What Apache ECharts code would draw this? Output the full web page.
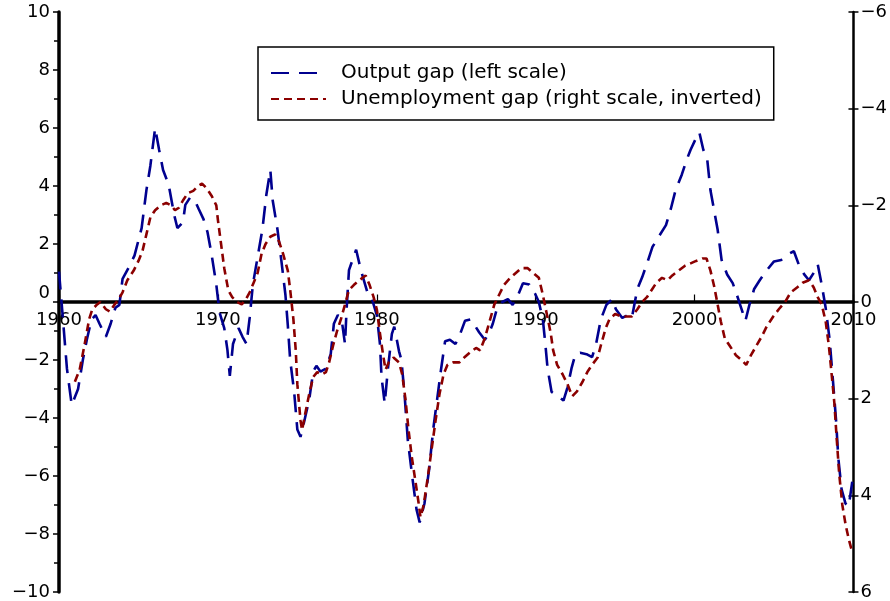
<!DOCTYPE html>
<html>
<head>
<meta charset="utf-8">
<script src="https://cdn.jsdelivr.net/npm/echarts@6/dist/echarts.min.js"></script>
<style>
html, body { margin: 0; padding: 0; background: #fff; }
#chart { width: 890px; height: 601px; }
</style>
</head>
<body>
<div id="chart"></div>
<script>
// output gap, left scale (quarterly-ish readings)
const outputYears = [
  1960.0,1960.25,1960.5,1960.8,1961.2,1961.5,1961.75,1962.05,1962.3,1962.55,
  1962.95,1963.25,1963.55,1963.8,1964.0,1964.4,1964.75,1965.2,1965.5,1965.75,
  1966.05,1966.3,1966.55,1966.9,1967.25,1967.45,1967.8,1967.95,1968.25,1968.55,
  1968.8,1969.1,1969.35,1969.6,1969.9,1970.1,1970.4,1970.6,1970.75,1970.95,
  1971.3,1971.55,1971.8,1972.0,1972.2,1972.5,1972.8,1973.05,1973.3,1973.45,
  1973.75,1974.0,1974.25,1974.4,1974.55,1974.8,1975.0,1975.2,1975.4,1975.75,
  1976.0,1976.2,1976.45,1976.8,1977.1,1977.3,1977.55,1977.8,1978.0,1978.1,
  1978.25,1978.7,1979.0,1979.4,1979.7,1980.0,1980.2,1980.3,1980.5,1980.7,
  1980.95,1981.1,1981.4,1981.55,1981.75,1981.95,1982.25,1982.5,1982.7,1983.0,
  1983.3,1983.55,1983.8,1984.05,1984.3,1984.6,1984.95,1985.25,1985.55,1985.9,
  1986.1,1986.45,1986.8,1987.05,1987.3,1987.55,1987.9,1988.25,1988.55,1988.9,
  1989.2,1989.6,1989.95,1990.2,1990.45,1990.6,1990.75,1991.0,1991.4,1991.75,
  1992.0,1992.25,1992.5,1992.8,1993.2,1993.55,1993.8,1994.1,1994.45,1994.8,
  1995.05,1995.45,1995.8,1996.05,1996.4,1996.7,1997.05,1997.35,1997.8,1998.2,
  1998.5,1998.8,1999.2,1999.5,1999.75,2000.05,2000.3,2000.55,2000.8,2001.0,
  2001.25,2001.45,2001.7,2002.05,2002.4,2002.6,2002.9,2003.2,2003.45,2003.75,
  2004.1,2004.55,2005.0,2005.45,2005.9,2006.25,2006.55,2006.9,2007.2,2007.55,
  2007.75,2008.0,2008.25,2008.5,2008.7,2008.9,2009.05,2009.25,2009.5,2009.7,
  2009.95
]
const outputGap = [
  1.05,-0.6,-2.3,-3.55,-3.0,-2.0,-1.3,-0.6,-0.45,-0.75,
  -1.2,-0.75,-0.2,-0.1,0.8,1.2,1.6,2.55,3.85,4.7,
  6.0,5.25,4.55,4.05,3.0,2.55,2.75,3.35,3.6,3.5,
  3.2,2.85,2.4,1.65,0.6,-0.35,-0.9,-1.65,-2.55,-1.45,
  -0.9,-1.2,-1.45,-0.55,0.6,1.55,2.5,3.7,4.55,3.5,
  2.5,1.4,0.25,-0.8,-2.0,-3.1,-4.4,-4.65,-4.2,-3.35,
  -2.4,-2.2,-2.4,-2.3,-1.8,-0.75,-0.45,-0.65,-1.45,-0.25,
  1.1,1.8,1.1,0.35,0.1,-0.45,-1.45,-2.6,-3.5,-2.3,
  -1.1,-0.85,-1.7,-2.0,-3.2,-4.75,-6.1,-7.15,-7.6,-6.95,
  -5.75,-4.4,-3.35,-2.3,-1.35,-1.3,-1.45,-1.1,-0.65,-0.6,
  -0.75,-1.05,-1.3,-1.1,-0.75,-0.25,0.0,0.1,-0.1,0.25,
  0.65,0.6,0.3,0.0,-0.6,-1.4,-2.3,-3.1,-3.25,-3.4,
  -2.95,-2.3,-1.8,-1.75,-1.8,-1.9,-1.45,-0.6,-0.1,0.1,
  -0.25,-0.55,-0.45,-0.55,0.45,0.85,1.4,1.9,2.3,2.65,
  3.2,3.85,4.4,4.9,5.25,5.6,5.85,5.25,4.9,3.85,
  3.1,2.5,1.45,0.95,0.65,0.35,-0.15,-0.65,-0.1,0.45,
  0.75,1.1,1.4,1.45,1.65,1.75,1.3,0.95,0.75,1.05,
  1.3,0.6,-0.2,-1.3,-2.65,-4.05,-5.4,-6.45,-6.95,-7.05,
  -6.1
]

// unemployment gap, right scale (inverted)
const unempYears = [
  1961.0,1961.3,1961.6,1961.9,1962.1,1962.4,1962.6,1962.95,1963.2,1963.5,
  1963.75,1964.0,1964.3,1964.7,1965.0,1965.25,1965.5,1965.75,1966.05,1966.4,
  1966.75,1967.05,1967.3,1967.55,1967.8,1968.1,1968.45,1968.75,1969.0,1969.3,
  1969.6,1969.9,1970.0,1970.2,1970.4,1970.65,1970.9,1971.2,1971.5,1971.75,
  1972.0,1972.25,1972.5,1972.75,1973.0,1973.3,1973.6,1973.85,1974.1,1974.4,
  1974.55,1974.75,1974.9,1975.0,1975.2,1975.3,1975.5,1975.75,1976.0,1976.25,
  1976.55,1976.8,1977.0,1977.25,1977.5,1977.75,1978.0,1978.25,1978.55,1978.9,
  1979.3,1979.55,1979.8,1980.0,1980.2,1980.4,1980.55,1980.75,1981.05,1981.4,
  1981.6,1981.8,1982.0,1982.2,1982.45,1982.65,1982.75,1982.95,1983.2,1983.45,
  1983.7,1983.95,1984.2,1984.45,1984.8,1985.2,1985.5,1985.85,1986.25,1986.5,
  1986.8,1987.1,1987.4,1987.7,1988.0,1988.4,1988.75,1989.1,1989.5,1989.85,
  1990.2,1990.45,1990.7,1990.95,1991.1,1991.35,1991.7,1992.0,1992.3,1992.6,
  1992.95,1993.25,1993.55,1993.9,1994.1,1994.4,1994.65,1995.0,1995.4,1995.75,
  1996.05,1996.4,1996.7,1997.0,1997.3,1997.6,1997.95,1998.3,1998.6,1999.0,
  1999.4,1999.75,2000.1,2000.5,2000.75,2001.0,2001.25,2001.45,2001.65,2001.9,
  2002.2,2002.6,2002.95,2003.25,2003.55,2003.9,2004.25,2004.55,2004.95,2005.3,
  2005.7,2006.05,2006.45,2006.8,2007.2,2007.5,2007.75,2008.0,2008.25,2008.45,
  2008.6,2008.8,2008.95,2009.1,2009.3,2009.5,2009.7,2009.9
]
const unempGap = [
  1.65,1.4,0.9,0.35,0.15,0.05,0.0,0.15,0.2,0.05,
  -0.05,-0.2,-0.45,-0.65,-0.85,-1.05,-1.4,-1.75,-1.9,-2.0,
  -2.05,-2.0,-1.9,-1.95,-2.1,-2.25,-2.3,-2.4,-2.45,-2.35,
  -2.2,-2.0,-1.7,-1.2,-0.7,-0.25,-0.1,0.0,0.05,-0.05,
  -0.2,-0.4,-0.6,-1.0,-1.2,-1.35,-1.4,-1.25,-1.0,-0.65,
  -0.25,0.35,1.0,1.7,2.45,2.65,2.3,1.9,1.55,1.45,
  1.5,1.45,1.25,0.9,0.6,0.35,0.05,-0.25,-0.35,-0.45,
  -0.55,-0.35,-0.1,0.15,0.65,1.1,1.4,1.25,1.15,1.25,
  1.5,2.0,2.65,3.2,3.75,4.2,4.45,4.2,3.65,3.05,
  2.45,1.9,1.5,1.3,1.25,1.25,1.15,1.05,0.95,1.0,
  0.75,0.4,0.05,-0.15,-0.35,-0.5,-0.6,-0.7,-0.7,-0.6,
  -0.5,-0.15,0.25,0.65,1.0,1.3,1.5,1.7,1.95,1.85,
  1.65,1.45,1.3,1.15,0.9,0.55,0.35,0.25,0.3,0.3,
  0.3,0.15,0.0,-0.1,-0.25,-0.4,-0.5,-0.45,-0.55,-0.65,
  -0.75,-0.8,-0.85,-0.9,-0.9,-0.65,-0.3,0.05,0.4,0.75,
  0.9,1.1,1.2,1.3,1.1,0.9,0.7,0.5,0.3,0.15,
  0.0,-0.2,-0.3,-0.4,-0.45,-0.3,-0.1,0.05,0.4,0.9,
  1.4,2.1,2.85,3.55,4.2,4.6,4.9,5.15
]

const leftTicks = { min: -10, max: 10, step: 2 }
const rightTicks = { min: -6, max: 6, step: 2 }
const yearTicks = { min: 1960, max: 2010, step: 10 }

const FONT = 'DejaVu Sans'
const minus = v => String(v).replace('-', '\u2212')

const W = 890, H = 601
const grid = { left: 59, right: 31, top: 12, bottom: 8 }
// the year axis sits on the zero line, halfway down the symmetric left scale
const zeroOffset = -(H - grid.top - grid.bottom) * (0 - leftTicks.min) / (leftTicks.max - leftTicks.min)

let chart = echarts.init(document.getElementById('chart'))
let option = {
  animation: false,
  textStyle: { fontFamily: FONT },
  grid: grid,
  legend: {
    show: true,
    orient: 'vertical',
    left: 258,
    top: 47,
    padding: [16, 12, 11, 12],
    itemGap: 6,
    itemWidth: 55,
    itemHeight: 14,
    borderColor: '#000',
    borderWidth: 1.5,
    itemStyle: { opacity: 0 },
    textStyle: { fontFamily: FONT, fontSize: 20, lineHeight: 19, color: '#000', padding: [0, 0, 0, 10] },
  },
  xAxis: {
    type: 'value',
    position: 'bottom',
    offset: zeroOffset,
    min: yearTicks.min,
    max: yearTicks.max,
    interval: yearTicks.step,
    axisLine: { onZero: false, lineStyle: { color: '#000', width: 3.5 } },
    axisTick: { show: true, inside: true, length: 7, lineStyle: { color: '#000', width: 1.2 } },
    axisLabel: { color: '#000', fontSize: 18, margin: 10, fontFamily: FONT, formatter: v => String(v) },
    splitLine: { show: false },
  },
  yAxis: [
    {
      type: 'value',
      position: 'left',
      min: leftTicks.min,
      max: leftTicks.max,
      interval: leftTicks.step,
      axisLine: { show: true, onZero: false, lineStyle: { color: '#000', width: 3.5 } },
      axisTick: { show: true, length: 6, lineStyle: { color: '#000', width: 1.5 } },
      minorTick: { show: true, splitNumber: 2, length: 5, lineStyle: { color: '#000', width: 1.5 } },
      axisLabel: {
        color: '#000', fontSize: 18, margin: 9, fontFamily: FONT,
        formatter: v => v === 0 ? '{z|0}' : minus(v),
        rich: { z: { color: '#000', fontSize: 18, fontFamily: FONT, padding: [0, 0, 18, 0] } },
      },
      splitLine: { show: false },
    },
    {
      type: 'value',
      position: 'right',
      inverse: true,
      min: rightTicks.min,
      max: rightTicks.max,
      interval: rightTicks.step,
      axisLine: { show: true, onZero: false, lineStyle: { color: '#000', width: 2.5 } },
      axisTick: { show: true, length: 5, lineStyle: { color: '#000', width: 1.5 } },
      axisLabel: { color: '#000', fontSize: 18, margin: 7, fontFamily: FONT, formatter: minus },
      splitLine: { show: false },
    },
    {
      // inner half of the crossing ticks on the right axis
      type: 'value',
      position: 'right',
      inverse: true,
      min: rightTicks.min,
      max: rightTicks.max,
      interval: rightTicks.step,
      axisLine: { show: false, onZero: false },
      axisTick: { show: true, inside: true, length: 5, lineStyle: { color: '#000', width: 1.5 } },
      axisLabel: { show: false },
      splitLine: { show: false },
    },
  ],
  series: [
    {
      name: 'Output gap (left scale)',
      type: 'line',
      yAxisIndex: 0,
      data: outputYears.map((t, i) => [t, outputGap[i]]),
      symbol: 'none',
      lineStyle: { color: '#00008f', width: 2.6, type: [18, 10] },
      itemStyle: { color: '#00008f' },
      z: 3,
    },
    {
      name: 'Unemployment gap (right scale, inverted)',
      type: 'line',
      yAxisIndex: 1,
      data: unempYears.map((t, i) => [t, unempGap[i]]),
      symbol: 'none',
      lineStyle: { color: '#8b0000', width: 2.6, type: [8, 5] },
      itemStyle: { color: '#8b0000' },
      z: 4,
    },
  ]
}
chart.setOption(option)
</script>
</body>
</html>
